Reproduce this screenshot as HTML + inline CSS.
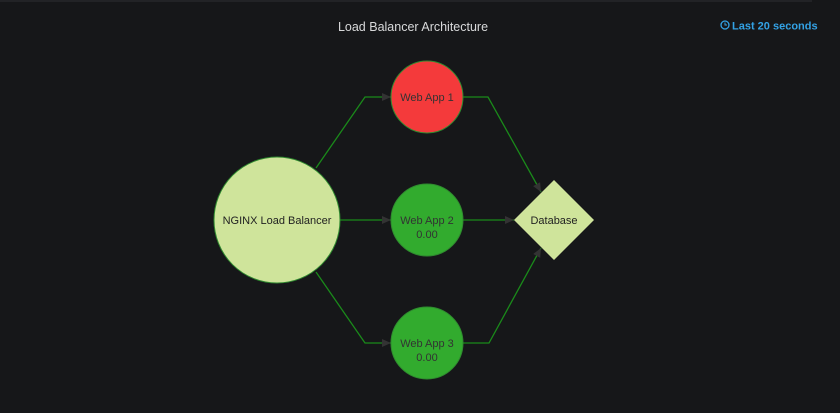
<!DOCTYPE html>
<html><head><meta charset="utf-8"><style>
html,body{margin:0;padding:0;background:#161719;width:840px;height:413px;overflow:hidden}
svg{display:block}
text{font-family:"Liberation Sans",sans-serif}
</style></head><body>
<svg width="840" height="413" viewBox="0 0 840 413">
<rect x="0" y="0" width="840" height="413" fill="#161719"/>
<rect x="0" y="0" width="812" height="2" fill="#222326"/>
<text x="413" y="31" fill="#d8d9da" font-size="12.5" text-anchor="middle">Load Balancer Architecture</text>
<circle cx="725" cy="25" r="4" fill="none" stroke="#33a2e5" stroke-width="1.3"/>
<path d="M725 22.5V25H727" fill="none" stroke="#33a2e5" stroke-width="1"/>
<text x="732" y="29.5" fill="#33a2e5" font-size="11" font-weight="bold">Last  20 seconds</text>
<defs><marker id="a" markerWidth="10" markerHeight="10" refX="9" refY="4" orient="auto" markerUnits="userSpaceOnUse"><path d="M0 0L9 4L0 8Z" fill="#333"/></marker></defs>
<g stroke="#1a8a1a" stroke-width="1.3" fill="none">
<path d="M316 168L365 97H391" marker-end="url(#a)"/>
<path d="M340 220H391" marker-end="url(#a)"/>
<path d="M316 272L365 343H391" marker-end="url(#a)"/>
<path d="M463 97H488L541 192" marker-end="url(#a)"/>
<path d="M463 220H514" marker-end="url(#a)"/>
<path d="M463 343H489L541 248" marker-end="url(#a)"/>
</g>
<circle cx="277" cy="220" r="63" fill="#cfe49b" stroke="#2f8a2f" stroke-width="1"/>
<text x="277" y="224" fill="#222" font-size="11" text-anchor="middle">NGINX Load Balancer</text>
<circle cx="427" cy="97" r="36" fill="#f43a3b" stroke="#2f8a2f" stroke-width="1"/>
<text x="427" y="101" fill="#333" font-size="11" text-anchor="middle">Web App 1</text>
<circle cx="427" cy="220" r="36" fill="#32ab2e" stroke="#2f8a2f" stroke-width="1"/>
<text x="427" y="224" fill="#333" font-size="11" text-anchor="middle">Web App 2</text>
<text x="427" y="238" fill="#333" font-size="11" text-anchor="middle">0.00</text>
<circle cx="427" cy="343" r="36" fill="#32ab2e" stroke="#2f8a2f" stroke-width="1"/>
<text x="427" y="347" fill="#333" font-size="11" text-anchor="middle">Web App 3</text>
<text x="427" y="361" fill="#333" font-size="11" text-anchor="middle">0.00</text>
<path d="M554 180L594 220L554 260L514 220Z" fill="#cfe49b"/>
<text x="554" y="224" fill="#222" font-size="11" text-anchor="middle">Database</text>
</svg>
</body></html>
